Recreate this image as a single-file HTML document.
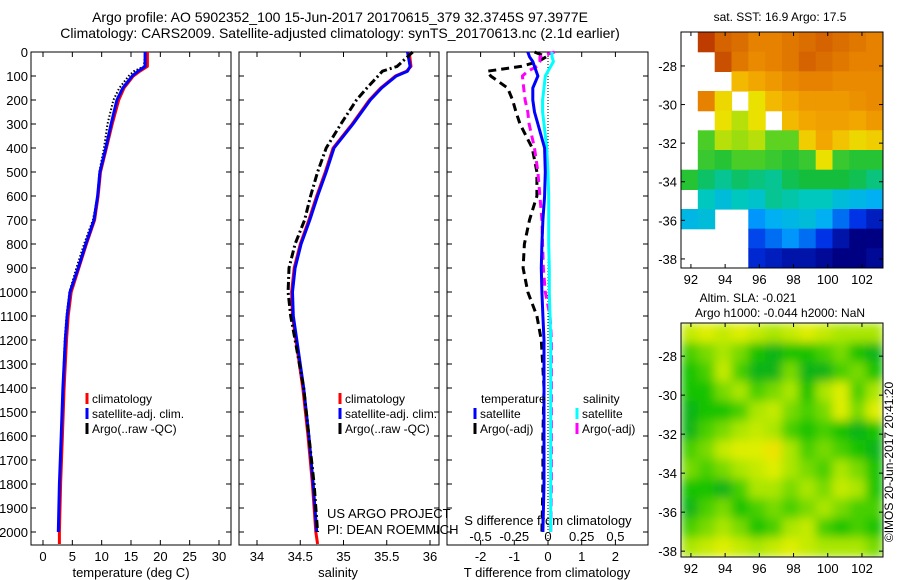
<!DOCTYPE html>
<html><head><meta charset="utf-8">
<style>
body{margin:0;background:#fff;}
svg{display:block;font-family:"Liberation Sans",sans-serif;}
text{fill:#000;}
</style></head>
<body>
<svg id="fig" width="900" height="580" viewBox="0 0 900 580" xmlns="http://www.w3.org/2000/svg">
<defs>
<filter id="blur" x="0" y="0" width="1" height="1"><feGaussianBlur stdDeviation="5" edgeMode="duplicate"/></filter>
<clipPath id="clipA"><rect x="681" y="32" width="202" height="236"/></clipPath>
<clipPath id="clipB"><rect x="681" y="323" width="202" height="234"/></clipPath>
</defs>
<text x="340" y="22" font-size="14" text-anchor="middle">Argo profile: AO 5902352_100 15-Jun-2017 20170615_379 32.3745S 97.3977E</text>
<text x="340" y="38" font-size="14" text-anchor="middle">Climatology: CARS2009. Satellite-adjusted climatology: synTS_20170613.nc (2.1d earlier)</text>
<g id="g"></g>
</svg>
<script>
// ---- profile data ----
const depthP = [0,60,80,100,150,200,300,400,500,600,700,800,900,1000,1100,1200,1400,1600,1800,2000,2050];
const tempClim = [17.8,17.8,16.5,15.4,13.8,12.9,11.8,10.8,9.8,9.4,8.8,7.4,6.1,4.8,4.3,4.0,3.6,3.3,3.0,2.8,2.8];
const tempSat = [17.4,17.4,16.2,15.2,13.6,12.6,11.6,10.7,9.7,9.3,8.7,7.3,6.0,4.6,4.1,3.8,3.4,3.1,2.8,2.6];
const tempArgo = [17.4,17.2,15.5,14.6,13.0,12.0,11.0,10.4,9.6,9.3,8.5,7.0,5.7,4.5,4.0,3.7,3.4,3.1,2.8,2.6];
const salClim = [35.76,35.78,35.73,35.6,35.43,35.3,35.1,34.88,34.79,34.69,34.6,34.5,34.43,34.4,34.41,34.45,34.53,34.59,34.64,34.68,34.7];
const salSat = [35.74,35.77,35.74,35.61,35.44,35.31,35.11,34.89,34.8,34.7,34.61,34.51,34.44,34.41,34.42,34.46,34.54,34.6,34.65,34.69];
const salArgo = [35.8,35.62,35.45,35.4,35.27,35.15,34.97,34.8,34.7,34.62,34.55,34.44,34.37,34.36,34.39,34.44,34.54,34.6,34.66,34.7];
const depthD = [0,20,40,60,80,100,150,200,250,300,400,500,600,700,800,900,1000,1100,1200,1400,1600,1800,2000];
const tdiffSat = [-0.6,-0.55,-0.45,-0.4,-0.35,-0.3,-0.45,-0.45,-0.4,-0.3,-0.1,-0.08,-0.1,-0.15,-0.18,-0.2,-0.18,-0.15,-0.12,-0.12,-0.12,-0.12,-0.15];
const tdiffArgo = [-0.4,-0.05,-0.3,-0.8,-1.8,-1.7,-1.2,-1.05,-0.95,-0.83,-0.47,-0.33,-0.33,-0.55,-0.7,-0.74,-0.6,-0.33,-0.2,-0.12,-0.15,-0.15,-0.18];
const sdiffSat = [0.03,0.03,0.04,0.02,0.0,-0.02,-0.03,-0.04,-0.04,-0.03,-0.01,0,0.005,0.005,0.005,0.01,0.01,0.015,0.02,0.02,0.02,0.02,0.02];
const sdiffArgo = [0.05,-0.06,-0.06,-0.08,-0.15,-0.19,-0.18,-0.17,-0.15,-0.14,-0.1,-0.075,-0.06,-0.045,-0.04,-0.035,-0.02,0.015,0.025,0.025,0.025,0.025,0.02];
const depthTicks = [0,100,200,300,400,500,600,700,800,900,1000,1100,1200,1300,1400,1500,1600,1700,1800,1900,2000];
const tempTicks = [0,5,10,15,20,25,30];
const salTicks = [34,34.5,35,35.5,36];
const tdTicks = [-2,-1,0,1,2];
const sdTicks = [-0.5,-0.25,0,0.25,0.5];
// ---- map data ----
const mapLons = [92,94,96,98,100,102];
const mapLats = [-28,-30,-32,-34,-36,-38];
const sstGrid = [
[NaN,19,18.6,18.5,18.3,18.3,18.4,18.5,18.6,18.5,18.4,18.3],
[NaN,NaN,18.8,18.4,18.2,18.3,18.4,18.6,18.5,18.4,18.3,18.3],
[NaN,NaN,NaN,17.6,17.8,18,18.2,18.3,18.3,18.2,18.2,18.2],
[NaN,18.3,17.3,NaN,17.2,17.6,17.8,18,18,18,18.1,18.2],
[NaN,NaN,17.2,17.0,17.2,NaN,17.6,17.8,17.9,17.9,17.8,18],
[NaN,16.5,17,16.9,17,16.6,16.6,17.4,17.8,17.5,17.3,17.4],
[NaN,16.4,16.3,16.5,16.5,16.4,16.3,16.4,17.2,16.4,16.3,16.3],
[16.3,16,15.8,16,15.9,15.8,16.1,16.2,16.2,16.2,16.1,15.9],
[NaN,15.6,15.4,15.6,15.5,15.8,15.7,15.6,15.6,15.4,15.3,15.2],
[15.3,15.4,NaN,NaN,15.0,15.2,15.3,15.4,15.2,14.8,14.5,14.3],
[NaN,NaN,NaN,NaN,14.6,14.8,15,14.8,14.5,14.2,14,14],
[NaN,NaN,NaN,NaN,14.4,14.3,14.2,14.2,14.1,14,14,14.1]];
const slaGrid = [
[.7,.8,.7,.8,.7,.6,.7,.8,.7,.6,.6,.6],
[.4,.5,.6,.5,.3,.2,.3,.3,.4,.5,.3,.2],
[.3,.4,.7,.4,.2,.2,.5,.2,.2,.4,.5,.3],
[.3,.3,.5,.6,.4,.5,.6,.3,.6,.8,.4,.6],
[.2,.3,.3,.4,.6,.7,.5,.4,.5,.8,.5,.8],
[.2,.4,.5,.6,.7,.6,.4,.3,.4,.3,.2,.3],
[.4,.5,.7,.8,.8,.9,.6,.4,.5,.4,.3,.2],
[.5,.4,.5,.6,.7,.8,.6,.5,.4,.6,.5,.3],
[.3,.3,.2,.4,.6,.6,.5,.6,.5,.7,.6,.3],
[.2,.4,.5,.3,.4,.5,.4,.5,.6,.5,.4,.4],
[.4,.5,.6,.5,.3,.4,.6,.7,.4,.3,.4,.3],
[.6,.7,.8,.7,.6,.7,.8,.7,.6,.6,.6,.5]];

const NS="http://www.w3.org/2000/svg";
const G=document.getElementById('g');
function mk(tag,at,parent){const e=document.createElementNS(NS,tag);for(const k in at)e.setAttribute(k,at[k]);(parent||G).appendChild(e);return e;}
function txt(x,y,s,size,anchor){const e=mk('text',{x:x,y:y,'font-size':size||12,'text-anchor':anchor||'middle'});e.textContent=s;return e;}

const TOP=52, BOT=545;
const yD=d=>TOP+d*0.24;
const xT=v=>43+v*(176/30);
const xS=v=>257+(v-34)*86.5;
const xTD=v=>548+v*33.7;
const xSD=v=>548+v*4*33.7;

const panels=[[31,231,'temperature-panel'],[239,439,'salinity-panel'],[447,648,'difference-panel']];
panels.forEach(p=>{
  const r=mk('rect',{x:p[0],y:TOP,width:p[1]-p[0],height:BOT-TOP,fill:'none',stroke:'#000','stroke-width':1});
  
  
  depthTicks.forEach(d=>{
    mk('line',{x1:p[0],x2:p[0]+5,y1:yD(d),y2:yD(d),stroke:'#000'});
    mk('line',{x1:p[1]-5,x2:p[1],y1:yD(d),y2:yD(d),stroke:'#000'});
  });
});
depthTicks.forEach(d=>{
  const t=txt(28,yD(d)+5,String(d),13,'end');
  
  
});
function xticks(ticks,fx,labelY,fmt,name){
  ticks.forEach(v=>{
    const x=fx(v);
    mk('line',{x1:x,x2:x,y1:TOP,y2:TOP+5,stroke:'#000'});
    mk('line',{x1:x,x2:x,y1:BOT-5,y2:BOT,stroke:'#000'});
    const t=txt(x,labelY,fmt?fmt(v):String(v),13);
    
    
  });
}
xticks(tempTicks,xT,561,null,'temperature-tick-label');
xticks(salTicks,xS,561,null,'salinity-tick-label');
xticks(tdTicks,xTD,561,null,'tdiff-tick-label');
sdTicks.forEach(v=>{
  const t=txt(xSD(v),541,String(v),13);
  
  
});
let a=txt(131,577,'temperature (deg C)',13);
a=txt(338,577,'salinity',13);
a=txt(547,577,'T difference from climatology',13);
a=txt(548,525,'S difference from climatology',13);
a=txt(327,518,'US ARGO PROJECT',13,'start');
a=txt(327,534,'PI: DEAN ROEMMICH',13,'start');

function line(depths,vals,fx,color,w,dash){
  const pts=vals.map((v,i)=>fx(v).toFixed(1)+','+yD(depths[i]).toFixed(1)).join(' ');
  return mk('polyline',{points:pts,fill:'none',stroke:color,'stroke-width':w,'stroke-dasharray':dash||'none','stroke-linejoin':'round'});
}
let l;
l=line(depthP,tempClim,xT,'#ff0000',3);
l=line(depthP,tempArgo,xT,'#000',2,'1.5,2');
l=line(depthP,tempSat,xT,'#0000ff',3);
l=line(depthP,salClim,xS,'#ff0000',3);
l=line(depthP,salSat,xS,'#0000ff',3);
l=line(depthP,salArgo,xS,'#000',3,'8,3,2,3');
l=mk('line',{x1:xTD(0),x2:xTD(0),y1:TOP,y2:BOT,stroke:'#000','stroke-width':1,'stroke-dasharray':'1,2'});
l=line(depthD,tdiffArgo,xTD,'#000',3,'8,5');
l=line(depthD,sdiffArgo,xSD,'#ff00ff',3,'8,5');
l=line(depthD,sdiffSat,xSD,'#00ffff',3);
l=line(depthD,tdiffSat,xTD,'#0000ff',3);

function legend(x,y,color,label){
  mk('line',{x1:x,x2:x,y1:y-10,y2:y+1,stroke:color,'stroke-width':3});
  return txt(x+5,y,label,12,'start');
}
let le;
le=legend(87,403,'#f00','climatology');
le=legend(87,418,'#00f','satellite-adj. clim.');
le=legend(87,433,'#000','Argo(..raw -QC)');
le=legend(340,403,'#f00','climatology');
le=legend(340,418,'#00f','satellite-adj. clim.');
le=legend(340,433,'#000','Argo(..raw -QC)');
le=txt(481,403,'temperature',12,'start');
le=txt(583,403,'salinity',12,'start');
le=legend(475,418,'#00f','satellite');
le=legend(475,433,'#000','Argo(-adj)');
le=legend(577,418,'#0ff','satellite');
le=legend(577,433,'#f0f','Argo(-adj)');

// ---- maps ----
const sstStops=[[14,[0,0,130]],[14.5,[0,50,230]],[15.1,[0,170,255]],[15.6,[0,200,190]],[16.2,[20,190,60]],[16.8,[130,220,20]],[17.2,[235,225,0]],[17.7,[245,175,0]],[18.3,[230,130,0]],[19,[190,60,0]]];
function sstColor(v){
  if(v<=sstStops[0][0])return 'rgb('+sstStops[0][1]+')';
  for(let i=1;i<sstStops.length;i++){if(v<=sstStops[i][0]){const a=sstStops[i-1],b=sstStops[i],t=(v-a[0])/(b[0]-a[0]);return 'rgb('+a[1].map((c,k)=>Math.round(c+(b[1][k]-c)*t)).join(',')+')';}}
  return 'rgb('+sstStops[sstStops.length-1][1]+')';
}
const slaStops=[[0,[0,150,60]],[0.3,[20,195,0]],[0.6,[170,230,0]],[0.85,[235,240,0]],[1,[245,200,0]]];
function slaColor(v){
  for(let i=1;i<slaStops.length;i++){if(v<=slaStops[i][0]){const a=slaStops[i-1],b=slaStops[i],t=(v-a[0])/(b[0]-a[0]);return 'rgb('+a[1].map((c,k)=>Math.round(c+(b[1][k]-c)*t)).join(',')+')';}}
  return 'rgb('+slaStops[slaStops.length-1][1]+')';
}
function drawMap(x0,y0,w,h,grid,colorFn,clip,name,blur,lon0,lon1,lat0,lat1){
  const g=mk('g',{'clip-path':'url(#'+clip+')'});
  
  
  const inner=mk('g',blur?{filter:'url(#blur)'}:{},g);
  const rows=grid.length,cols=grid[0].length,cw=w/cols,ch=h/rows;
  grid.forEach((row,r)=>row.forEach((v,c)=>{
    if(isNaN(v))return;
    const cell=mk('rect',{x:(x0+c*cw).toFixed(1),y:(y0+r*ch).toFixed(1),width:(cw+0.6).toFixed(1),height:(ch+0.6).toFixed(1),fill:colorFn(v)},inner);
    
    
  }));
  const fr=mk('rect',{x:x0,y:y0,width:w,height:h,fill:'none',stroke:'#000'});
  
  
  const fx=v=>x0+(v-lon0)/(lon1-lon0)*w, fy=v=>y0+(v-lat0)/(lat1-lat0)*h;
  mapLons.forEach(v=>{const x=fx(v);mk('line',{x1:x,x2:x,y1:y0+h,y2:y0+h-4,stroke:'#000'});mk('line',{x1:x,x2:x,y1:y0,y2:y0+4,stroke:'#000'});
    const t=txt(x,y0+h+16,String(v),13);});
  mapLats.forEach(v=>{const y=fy(v);mk('line',{x1:x0,x2:x0+4,y1:y,y2:y,stroke:'#000'});mk('line',{x1:x0+w-4,x2:x0+w,y1:y,y2:y,stroke:'#000'});
    const t=txt(x0-4,y+5,String(v),13,'end');});
}
drawMap(681,32,202,236,sstGrid,sstColor,'clipA','sst-map',false,91.42,103.23,-26.24,-38.47);
drawMap(681,323,202,234,slaGrid,slaColor,'clipB','sla-map',true,91.42,103.23,-26.3,-38.3);
a=txt(780,21,'sat. SST: 16.9 Argo: 17.5',12);
a=txt(748,302,'Altim. SLA: -0.021',12);
a=txt(780,317,'Argo h1000: -0.044 h2000: NaN',12);
a=txt(0,0,'©IMOS 20-Jun-2017 20:41:20',12);a.setAttribute('transform','translate(893,462) rotate(-90)');
</script>
</body></html>
